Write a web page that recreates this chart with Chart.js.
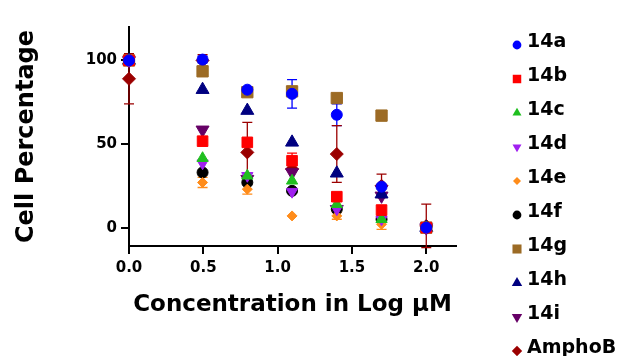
<!DOCTYPE html>
<html lang="en">
<head>
<meta charset="UTF-8">
<title>Cell Percentage</title>
<script src="https://cdn.jsdelivr.net/npm/chart.js"></script>
<style>
    body {
        margin: 0;
        background: #fff;
    }
    #wrap {
        width: 620px;
        height: 356px;
    }
</style>
</head>
<body>
<div id="wrap"><canvas id="viability" width="620" height="356"></canvas></div>
<script>
// log10 of 1, 3.125, 6.25, 12.5, 25, 50, 100 uM
const concentrations = [0, 0.495, 0.796, 1.097, 1.398, 1.699, 2.0];
const xTickValues = [0, 0.5, 1.0, 1.5, 2.0];
const yTickValues = [0, 50, 100];

const compounds = ['14a', '14b', '14c', '14d', '14e', '14f', '14g', '14h', '14i', 'AmphoB'];

// mean cell percentage per concentration
const mean14a = [100, 100.5, 82.5, 80, 67.5, 24.5, 0];
const mean14b = [100, 51.7, 51, 40, 18.5, 10.5, 0];
const mean14c = [100, 41.5, 31, 28, 14, 5, 0];
const mean14d = [100, 38.5, 31, 21.5, 11, 5, 0];
const mean14e = [100, 27, 23, 7, 7, 2, 0];
const mean14f = [100, 33, 27, 22, 11, 5, 0];
const mean14g = [100, 93.5, 81, 81.5, 77.5, 67, 0];
const mean14h = [100, 82.5, 70, 51, 32.5, 20, 0];
const mean14i = [100, 58.5, 29, 33, 11, 19, 0];
const meanAmphoB = [89, 100, 45, 35, 44, 25, 1];

// standard deviations (0 = bar hidden behind the marker)
const sd14a = [3, 2, 0, 8.5, 6.5, 0, 0];
const sd14b = [3, 0, 0, 4.5, 0, 0, 0];
const sd14c = [0, 0, 0, 0, 0, 0, 0];
const sd14d = [0, 0, 0, 0, 0, 0, 0];
const sd14e = [0, 3, 3, 0, 2, 3, 0];
const sd14f = [0, 0, 0, 0, 0, 0, 0];
const sd14g = [0, 3, 2, 3, 0, 3, 0];
const sd14h = [0, 0, 0, 0, 0, 0, 0];
const sd14i = [0, 0, 0, 0, 0, 0, 0];
const sdAmphoB = [15, 3.5, 18, 0, 17, 7, 13];

const means = [mean14a, mean14b, mean14c, mean14d, mean14e, mean14f, mean14g, mean14h, mean14i, meanAmphoB];
const sds = [sd14a, sd14b, sd14c, sd14d, sd14e, sd14f, sd14g, sd14h, sd14i, sdAmphoB];

const colors = ['#0000ff', '#ff0000', '#1fbf1f', '#a020f0', '#ff8c1a', '#000000', '#9c6b25', '#000080', '#660066', '#9b0000'];
const styles = ['circle', 'rect', 'triangle', 'triangle', 'rectRot', 'circle', 'rect', 'triangle', 'triangle', 'rectRot'];
const rotations = [0, 0, 0, 180, 0, 0, 0, 0, 180, 0];
const radii = [5.5, 7.5, 6.5, 6.5, 5, 5.5, 8, 7.5, 7.5, 6.5];

const FONT = '"DejaVu Sans", "Liberation Sans", sans-serif';

const datasets = compounds.map((name, i) => ({
    label: name,
    data: concentrations.map((x, j) => ({ x: x, y: means[i][j] })),
    errors: sds[i],
    backgroundColor: colors[i],
    borderColor: colors[i],
    borderWidth: 1,
    pointStyle: styles[i],
    rotation: rotations[i],
    pointRadius: radii[i],
    pointHoverRadius: radii[i],
    clip: false
}));

// vertical error bars with caps, drawn under the markers
const errorBars = {
    id: 'errorBars',
    beforeDatasetsDraw(chart) {
        const ctx = chart.ctx;
        const xs = chart.scales.x;
        const ys = chart.scales.y;
        ctx.save();
        ctx.lineWidth = 1.3;
        chart.data.datasets.forEach(ds => {
            ctx.strokeStyle = ds.borderColor;
            ds.data.forEach((p, j) => {
                const e = ds.errors[j];
                if (!e) return;
                const px = xs.getPixelForValue(p.x);
                const top = ys.getPixelForValue(p.y + e);
                const bot = ys.getPixelForValue(p.y - e);
                ctx.beginPath();
                ctx.moveTo(px, top);
                ctx.lineTo(px, bot);
                ctx.moveTo(px - 5, top);
                ctx.lineTo(px + 5, top);
                ctx.moveTo(px - 5, bot);
                ctx.lineTo(px + 5, bot);
                ctx.stroke();
            });
        });
        ctx.restore();
    }
};

// single-column legend to the right of the plot
const sideLegend = {
    id: 'sideLegend',
    afterDraw(chart) {
        const ctx = chart.ctx;
        const left = chart.chartArea.right + 61;
        ctx.save();
        ctx.font = 'bold 19px ' + FONT;
        ctx.textAlign = 'left';
        ctx.textBaseline = 'middle';
        chart.data.datasets.forEach((ds, i) => {
            const y = 42 + i * 34;
            ctx.fillStyle = ds.backgroundColor;
            ctx.strokeStyle = ds.borderColor;
            Chart.helpers.drawPoint(ctx, {
                pointStyle: ds.pointStyle,
                rotation: ds.rotation,
                radius: ds.pointRadius * 0.8,
                borderWidth: 0
            }, left, y + 3);
            ctx.fillStyle = '#000';
            ctx.fillText(ds.label, left + 10, y);
        });
        ctx.restore();
    }
};

const axisCommon = {
    border: { color: '#000', width: 2 },
    grid: { drawOnChartArea: false, drawTicks: true, tickLength: 8, color: '#000', lineWidth: 2 },
    ticks: { color: '#000', font: { family: FONT, size: 15, weight: 'bold' } }
};

new Chart(document.getElementById('viability'), {
    type: 'scatter',
    data: { datasets: datasets },
    plugins: [errorBars, sideLegend],
    options: {
        responsive: false,
        devicePixelRatio: 1,
        animation: false,
        layout: { padding: { left: 0, top: 27, right: 164, bottom: 0 } },
        plugins: {
            legend: { display: false },
            tooltip: { enabled: false }
        },
        scales: {
            x: {
                type: 'linear',
                min: 0,
                max: 2.2,
                border: axisCommon.border,
                grid: axisCommon.grid,
                ticks: Object.assign({}, axisCommon.ticks, {
                    padding: 5,
                    callback: v => v.toFixed(1)
                }),
                title: {
                    display: true,
                    text: 'Concentration in Log \u03bcM',
                    color: '#000',
                    font: { family: FONT, size: 23, weight: 'bold' },
                    padding: { top: 0, bottom: 37 }
                },
                afterBuildTicks: s => { s.ticks = xTickValues.map(v => ({ value: v })); },
                afterFit: s => { s.height = 110; }
            },
            y: {
                type: 'linear',
                min: -11,
                max: 120,
                border: axisCommon.border,
                grid: axisCommon.grid,
                ticks: Object.assign({}, axisCommon.ticks, {
                    padding: 4,
                    callback: v => String(v)
                }),
                title: {
                    display: true,
                    text: 'Cell Percentage',
                    color: '#000',
                    font: { family: FONT, size: 24, weight: 'bold' },
                    padding: { top: 12, bottom: 0 }
                },
                afterBuildTicks: s => { s.ticks = yTickValues.map(v => ({ value: v })); },
                afterFit: s => { s.width = 129; }
            }
        }
    }
});
</script>
</body>
</html>
